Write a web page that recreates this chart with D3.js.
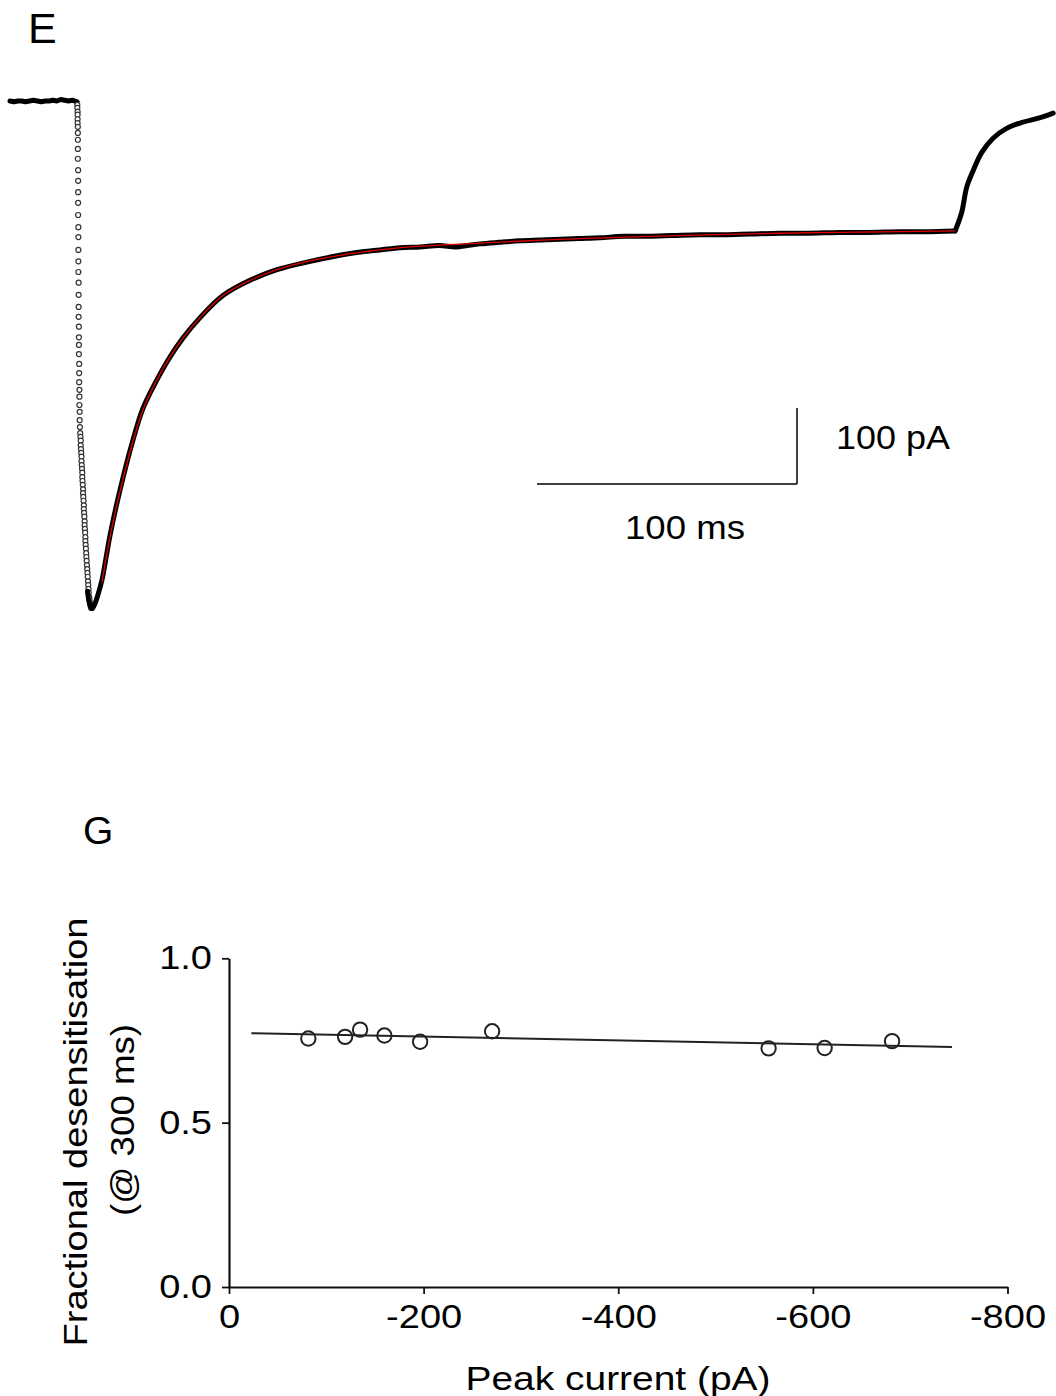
<!DOCTYPE html>
<html>
<head>
<meta charset="utf-8">
<script src="https://cdn.jsdelivr.net/npm/d3@7/dist/d3.min.js"></script>
<style>
  html, body { margin: 0; padding: 0; background: #fff; }
  svg { display: block; }
  text { font-family: "Liberation Sans", Arial, sans-serif; fill: #000; }
</style>
</head>
<body>
<svg id="chart" width="1056" height="1396"></svg>
<script>
// ---------------- DATA ----------------
// Panel E: whole-cell current trace (time in ms, current in pA)
const baseT = [0, 1.5, 3, 4.5, 6, 7.5, 9, 10.5, 12, 13.5, 15, 16.5, 18, 19.5, 21, 22.5, 24, 25.8];
const baseI = [0, -1, 0, 0, -1, 0, 1, 0, -1, 0, 0, 1, 0, 2, 1, 0, 1, -1];

// fast onset, sampled points drawn as small open circles
const dropT = [25.9,25.9,26.0,26.0,26.0,26.0,26.1,26.1,26.1,26.1,26.1,26.2,26.2,26.2,26.2,26.2,26.3,26.3,26.3,26.3,26.3,26.4,26.4,26.4,26.4,26.5,26.5,26.5,26.5,26.6,26.6,26.6,26.7,26.7,26.7,26.8,26.8,26.9,
  27.0,27.1,27.2,27.2,27.3,27.4,27.5,27.5,27.6,27.7,27.8,27.8,27.9,28.0,28.1,28.1,28.2,28.3,28.4,28.4,28.5,28.6,28.7,28.7,28.8,28.9,29.0,29.0,29.1,29.2,29.3,29.4,
  29.5,29.6,29.7,29.8,29.9,30.0,30.1,30.2,30.3,30.5,30.6,30.8,31.0,31.2];
const dropI = [-5,-9,-14,-18,-24,-29,-34,-42,-51,-63,-76,-91,-105,-120,-134,-150,-166,-179,-196,-211,-225,-239,-255,-271,-284,-297,-311,-321,-333,-346,-358,-370,-380,-389,-400,-409,-420,-429,
  -437,-442,-447,-453,-458,-463,-468,-474,-479,-484,-489,-495,-500,-505,-511,-516,-521,-526,-532,-537,-542,-547,-553,-558,-563,-568,-574,-579,-584,-589,-595,-600,
  -605,-611,-616,-621,-626,-632,-637,-642,-647,-653,-657,-661,-664,-667];

// desensitising response during agonist application
const traceT = [29.8, 30.8, 31.6, 32.6, 33.8, 35.4, 38.5, 42.3, 47.3, 51.2, 56.5, 61.5, 66.5, 73.1, 81.9, 92.3, 102.7, 114.2, 126.9, 134, 142.3, 150, 157.7, 165, 171.5, 176, 180.8, 188, 196.2, 204, 211.5, 219, 226.9, 236, 245.4, 255, 265.4, 274.6, 285, 296.2, 307, 318.8, 330, 342.3, 352, 363.5];
const traceI = [-645, -664, -668, -662, -650, -630, -571, -512, -446, -404, -367, -337, -312, -285, -256, -236, -222, -212, -203, -199, -196, -193, -192, -190, -192, -190, -188, -186, -184, -183, -182, -181, -180, -178, -178, -177, -176, -176, -175, -174, -174, -173, -173, -172, -172, -171];

// recovery after agonist removal
const offT = [363.5, 366.0, 368.0, 370.4, 373.7, 378.1, 383.3, 388.5, 396.2, 401.2];
const offI = [-171, -147, -113, -92, -68, -49, -36, -29, -22, -16];

// exponential fit (red)
const fitT = [35.4, 38.5, 42.3, 47.3, 51.2, 56.5, 61.5, 66.5, 73.1, 81.9, 92.3, 102.7, 114.2, 126.9, 142.3, 157.7, 180.8, 211.5, 245.4, 296.2, 342.3, 363.5];
const fitI = [-633, -573, -514, -448, -406, -367, -337, -312, -285, -256, -236, -222, -211, -203, -196, -191, -187, -182, -178, -174, -172, -171];

// scale bar sizes
const barTime = 100;     // ms
const barCurrent = 100;  // pA
const barLabels = ["100 pA", "100 ms"];

// Panel G: fractional desensitisation vs peak current
const peakCurrent = [-81.5, -119.3, -134.7, -159.7, -196.4, -270.4, -554.5, -612.1, -681.4];
const fracDesens  = [0.756, 0.761, 0.783, 0.765, 0.746, 0.778, 0.726, 0.727, 0.748];
const fitLineX = [-23, -743];
const fitLineY = [0.772, 0.730];
const xTicks = [0, -200, -400, -600, -800];
const yTicks = [0.0, 0.5, 1.0];
const panelLabels = ["E", "G"];
const xTitle = "Peak current (pA)";
const yTitle = ["Fractional desensitisation", "(@ 300 ms)"];

// ---------------- DRAW ----------------
const svg = d3.select("#chart");
const FS = 32.5;
function stretch(sel, k) {
  sel.each(function () {
    const w = this.getComputedTextLength();
    this.setAttribute("textLength", w * k);
    this.setAttribute("lengthAdjust", "spacingAndGlyphs");
  });
}

// ---- Panel E ----
const xE = d3.scaleLinear().domain([0, 400]).range([10, 1050]);
const yE = d3.scaleLinear().domain([0, -700]).range([101, 633]);
const gE = svg.append("g");

const lineE = d3.line().x(d => xE(d[0])).y(d => yE(d[1])).curve(d3.curveCatmullRom.alpha(0.5));
const lineLin = d3.line().x(d => xE(d[0])).y(d => yE(d[1]));

function traceStroke(p) {
  return p.attr("fill", "none").attr("stroke", "#000").attr("stroke-width", 5)
    .attr("stroke-linejoin", "round").attr("stroke-linecap", "round");
}

traceStroke(gE.append("path").attr("d", lineLin(d3.zip(baseT, baseI))));

gE.selectAll("circle.drop").data(d3.zip(dropT, dropI)).join("circle")
  .attr("class", "drop")
  .attr("cx", d => xE(d[0])).attr("cy", d => yE(d[1]))
  .attr("r", 2.5).attr("fill", "#fff").attr("stroke", "#333").attr("stroke-width", 1.2);

traceStroke(gE.append("path").attr("d", lineE(d3.zip(traceT, traceI))));
traceStroke(gE.append("path").attr("d", lineE(d3.zip(offT, offI))));

gE.append("path")
  .attr("d", lineE(d3.zip(fitT, fitI)))
  .attr("fill", "none").attr("stroke", "#e00000").attr("stroke-width", 1.3);

// scale bar
const barT1 = 302.7, barI0 = -504;
gE.append("line")
  .attr("x1", xE(barT1 - barTime)).attr("x2", xE(barT1))
  .attr("y1", yE(barI0)).attr("y2", yE(barI0))
  .attr("stroke", "#000").attr("stroke-width", 1.5);
gE.append("line")
  .attr("x1", xE(barT1)).attr("x2", xE(barT1))
  .attr("y1", yE(barI0)).attr("y2", yE(barI0 + barCurrent))
  .attr("stroke", "#000").attr("stroke-width", 1.5);
gE.append("text").attr("x", 836).attr("y", 449).attr("font-size", 33).attr("textLength", 114).attr("lengthAdjust", "spacingAndGlyphs").text(barLabels[0]);
gE.append("text").attr("x", 625).attr("y", 539).attr("font-size", 33).attr("textLength", 120).attr("lengthAdjust", "spacingAndGlyphs").text(barLabels[1]);

gE.append("text").attr("x", 28).attr("y", 42.5).attr("font-size", 43).text(panelLabels[0]);

// ---- Panel G ----
const xG = d3.scaleLinear().domain([0, -800]).range([229, 1007.5]);
const yG = d3.scaleLinear().domain([0, 1]).range([1287, 958.3]);
const gG = svg.append("g");

gG.append("text").attr("x", 83).attr("y", 844).attr("font-size", 39).text(panelLabels[1]);

const xAxis = gG.append("g").attr("transform", `translate(0,${yG(0)})`)
  .call(d3.axisBottom(xG).tickValues(xTicks).tickFormat(d => String(d)).tickSize(7).tickSizeOuter(0).tickPadding(11));
const yAxis = gG.append("g").attr("transform", `translate(${xG(0)},0)`)
  .call(d3.axisLeft(yG).tickValues(yTicks).tickFormat(d3.format(".1f")).tickSize(7).tickSizeOuter(0).tickPadding(10));

[xAxis, yAxis].forEach(a => {
  a.attr("font-family", null).attr("font-size", null);
  a.select(".domain").attr("stroke", "#111").attr("stroke-width", 2.2);
  a.selectAll(".tick line").attr("stroke", "#111").attr("stroke-width", 1.8);
  a.selectAll(".tick text").attr("font-size", FS).attr("fill", "#000")
    .style("font-family", '"Liberation Sans", Arial, sans-serif');
});
stretch(xAxis.selectAll(".tick text"), 1.17);
stretch(yAxis.selectAll(".tick text"), 1.17);

// fit line
gG.append("line")
  .attr("x1", xG(fitLineX[0])).attr("y1", yG(fitLineY[0]))
  .attr("x2", xG(fitLineX[1])).attr("y2", yG(fitLineY[1]))
  .attr("stroke", "#222").attr("stroke-width", 2);

// points
gG.selectAll("circle.pt").data(d3.zip(peakCurrent, fracDesens)).join("circle")
  .attr("class", "pt")
  .attr("cx", d => xG(d[0])).attr("cy", d => yG(d[1]))
  .attr("r", 7.2).attr("fill", "none").attr("stroke", "#222").attr("stroke-width", 2);

// titles
gG.append("text").attr("x", 618).attr("y", 1390).attr("text-anchor", "middle")
  .attr("font-size", FS).attr("textLength", 305).attr("lengthAdjust", "spacingAndGlyphs").text(xTitle);
gG.append("text").attr("transform", "translate(87,1132) rotate(-90)").attr("text-anchor", "middle")
  .attr("font-size", FS).attr("textLength", 429).attr("lengthAdjust", "spacingAndGlyphs").text(yTitle[0]);
gG.append("text").attr("transform", "translate(134,1120) rotate(-90)").attr("text-anchor", "middle")
  .attr("font-size", FS).attr("textLength", 192).attr("lengthAdjust", "spacingAndGlyphs").text(yTitle[1]);
</script>
</body>
</html>
